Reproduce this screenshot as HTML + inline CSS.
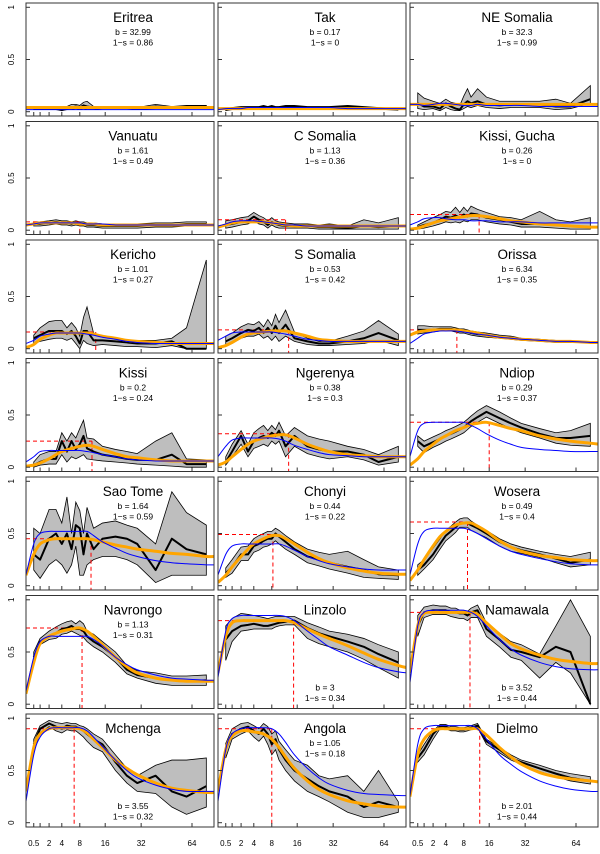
<!DOCTYPE html>
<html><head><meta charset="utf-8"><style>
html,body{margin:0;padding:0;background:#fff;}
svg{display:block;font-family:"Liberation Sans",Arial,sans-serif;}
</style></head><body>
<svg id="chart" width="600" height="854" viewBox="0 0 600 854" xmlns="http://www.w3.org/2000/svg"></svg>
<script>
const ages = [0.5,1,2,3,4,5,6,7,8,9,10,12,15,20,25,30,40,50,60,75];
const curveAges = [0.12,0.5,1,2,3,4,6,8,10,12,15,20,25,30,40,50,60,75,82];
const xTicks = [0.5,1,2,4,8,16,32,64];
const xTickLabels = ["0.5","","2","4","8","16","32","64"];
const yTicks = [0,0.5,1];
const yTickLabels = ["0","0.5","1"];
const names = ["Eritrea","Tak","NE Somalia","Vanuatu","C Somalia","Kissi, Gucha","Kericho","S Somalia","Orissa","Kissi","Ngerenya","Ndiop","Sao Tome","Chonyi","Wosera","Navrongo","Linzolo","Namawala","Mchenga","Angola","Dielmo"];
const bVals = ["32.99","0.17","32.3","1.61","1.13","0.26","1.01","0.53","6.34","0.2","0.38","0.29","1.64","0.44","0.49","1.13","3","3.52","3.55","1.05","2.01"];
const sVals = ["0.86","0","0.99","0.49","0.36","0","0.27","0.42","0.35","0.24","0.3","0.37","0.59","0.22","0.4","0.31","0.34","0.44","0.32","0.18","0.44"];
const textBottom = [0,0,0,0,0,0,0,0,0,0,0,0,0,0,0,0,1,1,1,0,1];
const peakAges = [null,null,null,8,12,12.5,12.7,13,6.3,11.5,13,16,11.2,8.3,9,8.6,14.7,9.7,6.6,8,12.7];
const peakVals = [null,null,null,.08,.1,.15,.16,.18,.18,.25,.32,.43,.45,.49,.61,.73,.80,.88,.90,.90,.90];
const meanSeries = [
[.03,.03,.03,.03,.02,.03,.04,.05,.04,.06,.05,.04,.04,.04,.04,.03,.05,.04,.05,.05],
[.02,.03,.04,.04,.04,.04,.05,.04,.05,.04,.04,.05,.05,.04,.04,.04,.05,.04,.03,.02],
[.08,.05,.05,.03,.08,.05,.03,.02,.07,.10,.08,.10,.07,.06,.07,.07,.07,.05,.05,.12],
[.06,.06,.07,.08,.07,.07,.06,.07,.06,.06,.05,.05,.04,.04,.04,.04,.05,.05,.06,.06],
[.05,.06,.08,.09,.13,.10,.08,.05,.08,.06,.05,.04,.04,.04,.03,.03,.02,.04,.03,.04],
[.03,.05,.07,.10,.13,.12,.14,.12,.15,.13,.16,.15,.12,.10,.08,.06,.06,.05,.04,.03],
[.10,.13,.17,.17,.17,.14,.17,.12,.05,.17,.17,.08,.08,.07,.06,.05,.05,.07,.00,.00],
[.07,.10,.15,.18,.17,.20,.15,.20,.15,.22,.15,.23,.10,.07,.05,.05,.07,.10,.15,.08],
[.18,.18,.18,.19,.19,.19,.18,.17,.17,.16,.15,.14,.13,.11,.10,.09,.08,.07,.07,.06],
[.02,.05,.08,.08,.25,.15,.25,.17,.22,.30,.18,.15,.12,.10,.08,.07,.07,.12,.03,.03],
[.05,.15,.30,.15,.25,.28,.30,.28,.33,.30,.35,.20,.30,.20,.17,.15,.15,.12,.05,.10],
[.25,.20,.24,.27,.30,.32,.34,.36,.38,.41,.44,.48,.53,.47,.42,.38,.32,.28,.28,.30],
[.30,.25,.45,.50,.40,.50,.35,.58,.55,.30,.50,.35,.45,.47,.45,.40,.15,.45,.35,.30],
[.12,.18,.30,.30,.38,.40,.43,.45,.45,.50,.47,.42,.35,.28,.25,.22,.18,.15,.11,.10],
[.15,.20,.30,.40,.48,.52,.56,.60,.60,.60,.58,.55,.50,.42,.37,.34,.30,.26,.22,.25],
[.45,.60,.65,.68,.72,.73,.75,.72,.72,.70,.65,.60,.55,.45,.33,.28,.25,.23,.22,.23],
[.62,.70,.75,.76,.77,.76,.75,.75,.76,.77,.78,.79,.80,.73,.68,.65,.60,.55,.48,.40],
[.75,.88,.90,.90,.90,.88,.88,.87,.87,.85,.88,.90,.72,.62,.52,.50,.45,.55,.50,.00],
[.75,.90,.95,.92,.90,.93,.92,.92,.90,.88,.85,.80,.75,.58,.45,.38,.45,.30,.25,.35],
[.70,.85,.90,.92,.88,.85,.90,.85,.75,.80,.70,.60,.50,.42,.35,.30,.25,.15,.20,.15],
[.62,.70,.85,.92,.92,.90,.90,.89,.89,.90,.91,.93,.78,.70,.62,.58,.52,.47,.43,.40]
];
const loSeries = [
[.02,.02,.02,.02,.01,.02,.02,.03,.02,.03,.02,.02,.03,.03,.03,.02,.03,.03,.04,.04],
[.01,.02,.03,.03,.03,.03,.04,.03,.04,.03,.03,.04,.04,.03,.03,.03,.04,.03,.02,.02],
[.03,.02,.03,.01,.04,.02,.01,.01,.03,.05,.04,.06,.04,.03,.04,.04,.04,.02,.03,.08],
[.04,.04,.05,.06,.05,.05,.04,.05,.04,.04,.03,.03,.02,.02,.02,.02,.03,.03,.04,.04],
[.02,.03,.05,.06,.09,.06,.05,.02,.05,.03,.02,.02,.02,.02,.01,.01,.01,.01,.01,.01],
[.01,.02,.04,.06,.08,.07,.08,.07,.09,.08,.10,.10,.08,.06,.05,.03,.03,.02,.01,.01],
[.05,.07,.09,.10,.10,.08,.10,.05,.00,.08,.05,.03,.04,.03,.02,.02,.01,.03,.00,.00],
[.03,.05,.10,.12,.12,.14,.10,.12,.08,.12,.07,.12,.07,.04,.03,.03,.04,.05,.08,.03],
[.14,.15,.16,.17,.17,.17,.16,.15,.15,.14,.13,.12,.11,.10,.09,.08,.07,.06,.06,.06],
[.00,.02,.03,.03,.12,.05,.10,.08,.10,.12,.08,.07,.06,.05,.04,.03,.02,.01,.00,.00],
[.02,.10,.22,.10,.18,.20,.22,.20,.25,.22,.25,.10,.20,.13,.10,.08,.10,.07,.02,.05],
[.20,.14,.19,.22,.25,.27,.29,.31,.33,.36,.39,.43,.48,.42,.37,.33,.28,.23,.21,.20],
[.15,.07,.20,.25,.20,.12,.20,.38,.10,.10,.20,.25,.28,.28,.25,.20,.03,.10,.10,.10],
[.08,.12,.24,.24,.32,.34,.37,.38,.40,.43,.40,.35,.30,.22,.19,.16,.12,.08,.07,.06],
[.10,.16,.25,.35,.43,.47,.51,.56,.56,.56,.53,.50,.46,.38,.33,.31,.27,.22,.18,.20],
[.40,.57,.62,.63,.67,.68,.70,.68,.66,.64,.60,.55,.50,.40,.29,.25,.20,.18,.18,.18],
[.42,.60,.70,.71,.72,.72,.72,.72,.72,.74,.75,.76,.76,.63,.58,.55,.50,.43,.35,.25],
[.65,.83,.86,.86,.86,.84,.83,.82,.82,.80,.83,.83,.65,.55,.45,.42,.25,.40,.30,.00],
[.68,.86,.92,.88,.86,.89,.88,.88,.85,.82,.78,.72,.68,.50,.38,.30,.28,.15,.08,.15],
[.62,.80,.85,.88,.82,.78,.83,.75,.65,.70,.60,.50,.40,.30,.25,.20,.10,.05,.05,.10],
[.58,.65,.80,.90,.90,.88,.88,.87,.87,.88,.89,.91,.75,.67,.60,.56,.49,.44,.40,.37]
];
const hiSeries = [
[.04,.04,.04,.04,.03,.05,.07,.07,.06,.09,.10,.05,.05,.05,.05,.04,.07,.05,.06,.06],
[.03,.04,.05,.05,.05,.05,.06,.05,.06,.05,.05,.06,.06,.05,.05,.05,.06,.05,.04,.03],
[.18,.13,.10,.08,.12,.09,.08,.06,.15,.22,.14,.22,.14,.10,.10,.10,.10,.12,.08,.25],
[.08,.08,.09,.10,.09,.09,.08,.09,.08,.08,.07,.07,.06,.06,.06,.06,.07,.07,.08,.08],
[.09,.10,.12,.13,.17,.14,.12,.09,.12,.09,.08,.07,.06,.06,.05,.06,.04,.10,.07,.12],
[.05,.08,.12,.15,.18,.17,.22,.17,.22,.18,.23,.20,.17,.13,.12,.10,.18,.10,.08,.12],
[.13,.20,.26,.27,.27,.20,.25,.20,.12,.30,.40,.15,.12,.10,.08,.08,.08,.10,.20,.85],
[.12,.15,.21,.24,.23,.26,.21,.28,.22,.33,.25,.37,.16,.10,.07,.07,.12,.17,.27,.14],
[.22,.22,.21,.21,.21,.21,.20,.19,.19,.18,.17,.16,.15,.13,.12,.10,.09,.08,.07,.07],
[.05,.12,.15,.15,.33,.25,.33,.28,.37,.45,.28,.27,.20,.17,.15,.13,.25,.33,.08,.07],
[.10,.22,.35,.22,.33,.37,.40,.35,.40,.36,.43,.30,.38,.30,.27,.25,.20,.17,.12,.20],
[.30,.25,.29,.32,.35,.37,.39,.41,.43,.46,.49,.54,.59,.53,.47,.42,.37,.33,.35,.42],
[.55,.50,.73,.73,.60,.85,.50,.80,.72,.50,.75,.55,.60,.62,.58,.55,.40,.90,.70,.58],
[.17,.25,.37,.38,.45,.48,.50,.52,.52,.55,.53,.48,.42,.35,.32,.30,.33,.25,.18,.15],
[.20,.25,.36,.45,.53,.57,.61,.64,.65,.65,.62,.58,.53,.45,.40,.37,.33,.30,.28,.32],
[.50,.63,.70,.74,.77,.79,.80,.77,.80,.77,.70,.67,.60,.50,.37,.32,.30,.27,.27,.28],
[.75,.82,.87,.86,.85,.84,.83,.82,.83,.84,.84,.84,.84,.78,.74,.70,.67,.63,.57,.50],
[.85,.93,.95,.94,.94,.92,.92,.90,.90,.89,.92,.95,.78,.68,.60,.57,.48,.75,1.0,.65],
[.80,.93,.98,.96,.95,.96,.95,.95,.93,.92,.90,.85,.80,.65,.52,.45,.55,.60,.60,.62],
[.76,.90,.95,.96,.93,.90,.95,.92,.85,.88,.78,.70,.60,.55,.45,.42,.45,.30,.50,.20],
[.65,.75,.88,.94,.94,.92,.92,.91,.91,.92,.93,.95,.80,.72,.65,.60,.55,.50,.47,.44]
];
const blueSeries = [
[.02,.02,.02,.02,.02,.02,.02,.02,.02,.02,.02,.02,.02,.02,.02,.02,.02,.02,.02],
[.02,.03,.03,.03,.04,.04,.04,.04,.04,.04,.04,.04,.04,.04,.03,.03,.03,.03,.03],
[.07,.07,.06,.07,.08,.08,.07,.06,.06,.07,.06,.06,.06,.06,.05,.05,.05,.05,.05],
[.05,.06,.07,.07,.07,.07,.07,.07,.06,.06,.06,.05,.05,.05,.05,.05,.05,.05,.05],
[.04,.06,.08,.09,.09,.09,.08,.07,.06,.05,.05,.04,.04,.04,.04,.04,.04,.04,.04],
[.05,.08,.11,.12,.12,.11,.10,.10,.09,.09,.09,.08,.08,.08,.07,.07,.07,.07,.07],
[.05,.08,.12,.14,.15,.15,.15,.15,.14,.13,.11,.09,.07,.06,.05,.05,.05,.05,.05],
[.08,.12,.15,.16,.16,.16,.16,.16,.15,.14,.12,.09,.08,.07,.07,.07,.07,.07,.07],
[.05,.10,.14,.16,.17,.17,.17,.16,.15,.14,.13,.11,.10,.09,.08,.07,.07,.06,.06],
[.05,.10,.15,.16,.16,.16,.16,.16,.15,.14,.12,.10,.08,.07,.06,.06,.06,.06,.06],
[.10,.20,.26,.28,.28,.28,.28,.28,.27,.25,.21,.17,.14,.12,.11,.10,.10,.10,.10],
[.10,.35,.42,.43,.43,.43,.43,.43,.40,.37,.32,.26,.22,.19,.17,.16,.15,.15,.15],
[.10,.40,.50,.52,.52,.52,.52,.52,.52,.48,.42,.36,.31,.28,.24,.22,.21,.20,.20],
[.10,.30,.38,.40,.40,.40,.40,.40,.40,.38,.34,.28,.24,.21,.18,.16,.15,.15,.15],
[.10,.40,.52,.55,.55,.55,.55,.55,.53,.50,.45,.38,.33,.30,.26,.23,.21,.20,.20],
[.12,.45,.60,.65,.65,.65,.65,.65,.65,.62,.56,.45,.38,.33,.28,.25,.24,.23,.23],
[.25,.70,.82,.85,.85,.85,.85,.85,.85,.84,.80,.70,.62,.55,.47,.40,.35,.31,.30],
[.20,.75,.88,.90,.90,.90,.90,.90,.88,.84,.75,.62,.53,.47,.40,.36,.34,.33,.33],
[.20,.65,.82,.90,.91,.91,.91,.91,.88,.82,.73,.60,.50,.43,.36,.32,.30,.30,.30],
[.20,.70,.85,.90,.91,.91,.91,.90,.85,.77,.65,.52,.43,.37,.31,.28,.27,.26,.26],
[.25,.75,.90,.93,.93,.93,.93,.93,.93,.90,.80,.65,.56,.49,.40,.35,.32,.30,.30]
];
const orangeSeries = [
[.04,.04,.04,.04,.04,.04,.04,.04,.04,.04,.04,.04,.04,.04,.04,.04,.04,.04,.04],
[.03,.03,.03,.03,.03,.03,.03,.03,.03,.03,.03,.03,.03,.03,.03,.03,.03,.03,.03],
[.07,.07,.07,.07,.07,.07,.07,.07,.07,.07,.07,.07,.07,.07,.07,.07,.07,.07,.07],
[.05,.06,.07,.07,.07,.07,.07,.06,.06,.06,.05,.05,.05,.05,.05,.05,.05,.05,.05],
[.03,.05,.07,.08,.08,.08,.08,.07,.06,.05,.04,.04,.04,.04,.04,.04,.04,.04,.04],
[.01,.02,.04,.07,.09,.10,.12,.13,.14,.14,.13,.11,.09,.08,.06,.05,.04,.03,.03],
[.01,.04,.09,.13,.15,.15,.15,.15,.15,.14,.12,.10,.08,.07,.06,.05,.05,.05,.05],
[.01,.03,.06,.11,.14,.15,.16,.17,.17,.17,.15,.12,.09,.08,.07,.07,.07,.07,.07],
[.13,.16,.17,.18,.18,.18,.18,.17,.16,.15,.13,.11,.10,.09,.08,.07,.07,.06,.06],
[.01,.02,.04,.08,.12,.15,.18,.20,.21,.20,.17,.13,.10,.09,.07,.06,.06,.06,.06],
[.02,.05,.10,.17,.22,.25,.28,.30,.31,.31,.28,.22,.18,.15,.12,.11,.10,.10,.10],
[.02,.08,.15,.22,.27,.30,.35,.38,.41,.42,.43,.40,.37,.35,.30,.27,.25,.23,.22],
[.10,.30,.40,.44,.45,.45,.45,.45,.45,.44,.42,.39,.37,.35,.33,.31,.30,.28,.28],
[.03,.10,.18,.28,.35,.40,.45,.48,.48,.45,.40,.32,.26,.22,.17,.14,.12,.11,.11],
[.05,.15,.25,.38,.47,.52,.58,.60,.60,.57,.52,.43,.37,.33,.29,.27,.25,.24,.24],
[.10,.40,.58,.65,.68,.70,.72,.73,.70,.65,.57,.45,.36,.30,.25,.23,.22,.22,.22],
[.30,.65,.78,.80,.80,.80,.80,.80,.80,.80,.78,.72,.67,.63,.56,.49,.43,.37,.35],
[.30,.75,.87,.88,.88,.88,.88,.88,.88,.86,.78,.67,.58,.53,.47,.43,.41,.39,.39],
[.30,.72,.85,.90,.91,.91,.91,.90,.86,.80,.72,.60,.52,.46,.38,.33,.31,.29,.29],
[.30,.70,.83,.88,.88,.87,.85,.80,.72,.63,.52,.40,.32,.27,.21,.18,.16,.15,.15],
[.25,.65,.80,.88,.90,.90,.90,.90,.90,.90,.84,.72,.63,.56,.48,.44,.42,.40,.39]
];

const NS = "http://www.w3.org/2000/svg";
const svg = document.getElementById("chart");
const colLefts = [26,218,410], PW = 188, PH = 113, rowTop0 = 3, rowPitch = 118.5;
function mk(tag, attrs, parent){ const e=document.createElementNS(NS,tag); for(const k in attrs) e.setAttribute(k,attrs[k]); (parent||svg).appendChild(e); return e; }
function xScale(left, a){ return left - 7.6 + 21.7*Math.sqrt(a); }
function yScale(top, v){ return top + PH - 4.3 - v*(PH-8.6); }
function smoothPath(pts){
  let d = "M"+pts[0][0].toFixed(2)+","+pts[0][1].toFixed(2);
  for(let i=0;i<pts.length-1;i++){
    const p0=pts[Math.max(0,i-1)], p1=pts[i], p2=pts[i+1], p3=pts[Math.min(pts.length-1,i+2)];
    const c1=[p1[0]+(p2[0]-p0[0])/6, p1[1]+(p2[1]-p0[1])/6];
    const c2=[p2[0]-(p3[0]-p1[0])/6, p2[1]-(p3[1]-p1[1])/6];
    d += " C"+c1[0].toFixed(2)+","+c1[1].toFixed(2)+" "+c2[0].toFixed(2)+","+c2[1].toFixed(2)+" "+p2[0].toFixed(2)+","+p2[1].toFixed(2);
  }
  return d;
}
const defs = mk("defs",{});
names.forEach((nm,i)=>{
  const col=i%3, row=Math.floor(i/3);
  const left=colLefts[col], top=rowTop0+row*rowPitch;
  const cp = mk("clipPath",{id:"clip"+i},defs);
  mk("rect",{x:left,y:top,width:PW,height:PH},cp);
  const g = mk("g",{});
  
  
  const pg = mk("g",{"clip-path":"url(#clip"+i+")"},g);
  // band
  const up = ages.map((a,k)=>[xScale(left,a),yScale(top,hiSeries[i][k])]);
  const dn = ages.map((a,k)=>[xScale(left,a),yScale(top,loSeries[i][k])]).reverse();
  const band = mk("path",{d:"M"+up.concat(dn).map(p=>p[0].toFixed(2)+","+p[1].toFixed(2)).join(" L")+"Z",fill:"#bebebe",stroke:"#000","stroke-width":0.8},pg);
  
  
  // red dashed
  if(peakAges[i]!==null){
    const px=xScale(left,peakAges[i]), py=yScale(top,peakVals[i]);
    const rh = mk("line",{x1:left,y1:py,x2:px,y2:py,stroke:"#ff0000","stroke-width":1,"stroke-dasharray":"4,3"},pg);
    
    
    const rv = mk("line",{x1:px,y1:py,x2:px,y2:top+PH,stroke:"#ff0000","stroke-width":1,"stroke-dasharray":"4,3"},pg);
    
    
  }
  // mean
  const ml = mk("polyline",{points:ages.map((a,k)=>xScale(left,a).toFixed(2)+","+yScale(top,meanSeries[i][k]).toFixed(2)).join(" "),fill:"none",stroke:"#000","stroke-width":2,"stroke-linejoin":"round"},pg);
  
  
  // orange
  const op = mk("path",{d:smoothPath(curveAges.map((a,k)=>[xScale(left,a),yScale(top,orangeSeries[i][k])])),fill:"none",stroke:"#ffa500","stroke-width":3},pg);
  
  
  // blue
  const bp = mk("path",{d:smoothPath(curveAges.map((a,k)=>[xScale(left,a),yScale(top,blueSeries[i][k])])),fill:"none",stroke:"#0000ff","stroke-width":1},pg);
  
  
  // frame
  const fr = mk("rect",{x:left,y:top,width:PW,height:PH,fill:"none",stroke:"#333","stroke-width":1},g);
  
  
  // ticks
  xTicks.forEach(a=>{ const x=xScale(left,a); mk("line",{x1:x,y1:top+PH,x2:x,y2:top+PH-4,stroke:"#333","stroke-width":1},g); });
  yTicks.forEach(v=>{ const y=yScale(top,v); mk("line",{x1:left,y1:y,x2:left+4,y2:y,stroke:"#333","stroke-width":1},g); });
  // title & stats
  const t = mk("text",{x:left+107,y:top+19,"text-anchor":"middle","font-size":"13.5",fill:"#000"},g);
  t.textContent = nm;
  
  
  const by = textBottom[i] ? top+PH-18 : top+32;
  const bt = mk("text",{x:left+107,y:by,"text-anchor":"middle","font-size":"8.5",fill:"#000"},g);
  bt.textContent = "b =  "+bVals[i];
  
  
  const st = mk("text",{x:left+107,y:by+10.5,"text-anchor":"middle","font-size":"8.5",fill:"#000"},g);
  st.textContent = "1\u2212s =  "+sVals[i];
  
  
  // y tick labels on col 1
  if(col===0){
    yTicks.forEach((v,k)=>{
      const y=yScale(top,v);
      const yl = mk("text",{x:14,y:y,"text-anchor":"middle","font-size":"8",fill:"#000",transform:"rotate(-90 14 "+y+")"},g);
      yl.textContent = yTickLabels[k];
      
      
    });
  }
  // x tick labels in bottom row
  if(row===6){
    xTicks.forEach((a,k)=>{
      if(!xTickLabels[k]) return;
      const xl = mk("text",{x:xScale(left,a),y:846,"text-anchor":"middle","font-size":"8",fill:"#000"},g);
      xl.textContent = xTickLabels[k];
      
      
    });
  }
});
</script>
</body></html>
